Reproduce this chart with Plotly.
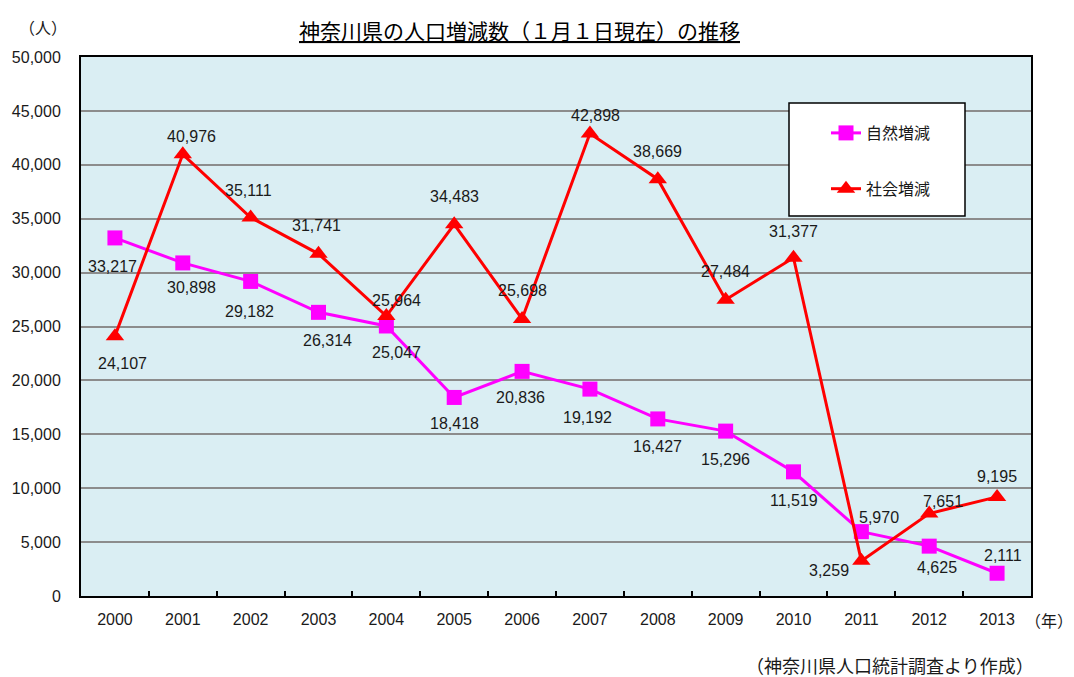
import plotly.graph_objects as go

years = ["2000", "2001", "2002", "2003", "2004", "2005", "2006",
         "2007", "2008", "2009", "2010", "2011", "2012", "2013"]
natural = [33217, 30898, 29182, 26314, 25047, 18418, 20836,
           19192, 16427, 15296, 11519, 5970, 4625, 2111]
social = [24107, 40976, 35111, 31741, 25964, 34483, 25698,
          42898, 38669, 27484, 31377, 3259, 7651, 9195]
y_ticks = [0, 5000, 10000, 15000, 20000, 25000, 30000, 35000, 40000, 45000, 50000]

# label pixel offsets (dx, dy upward) per point
nat_off = [(-2, -29), (9, -25), (-1, -30), (9, -28), (10, -27), (0, -26), (-2, -26),
           (-2, -28), (0, -28), (0, -28), (0, -29), (18, 14), (8, -21), (6, 18)]
soc_off = [(8, -27), (9, 18), (-2, 27), (-2, 28), (10, 16), (0, 28), (0, 28),
           (6, 18), (0, 28), (0, 28), (0, 26), (-32, -10), (14, 12), (0, 20)]

NUM_FONT = "Liberation Sans, Arial, sans-serif"
CJK_FONT = "Noto Sans CJK JP, sans-serif"

# page body margin offset (the page places the figure 8px from the corner)
OFF = 8
W, H = 1074 - OFF, 677 - OFF
L, R, T, B = 81 - OFF, 43, 57 - OFF, 81
PW, PH = W - L - R, H - T - B


def px_x(px):
    return (px - OFF - L) / PW


def px_y(py):
    return (H - B - (py - OFF)) / PH


fig = go.Figure()
fig.add_trace(go.Scatter(
    x=years, y=natural, name="自然増減", mode="lines+markers",
    line=dict(color="#FF00FF", width=3),
    marker=dict(symbol="square", size=15, color="#FF00FF"),
    legendgroup="a",
))
fig.add_trace(go.Scatter(
    x=years, y=social, name="社会増減", mode="lines+markers",
    line=dict(color="#FF0000", width=3),
    marker=dict(symbol="triangle-up", size=16, color="#FF0000"),
    legendgroup="b",
))

annotations = []
for vals, offs in ((natural, nat_off), (social, soc_off)):
    for i, (v, (dx, dy)) in enumerate(zip(vals, offs)):
        annotations.append(dict(
            x=i, y=v, text=f"{v:,}", showarrow=False,
            xshift=dx, yshift=dy, xref="x", yref="y",
            xanchor="center", yanchor="middle",
            font=dict(family=NUM_FONT, size=16, color="#1a1a1a"),
        ))

page_texts = [
    ("<u>神奈川県の人口増減数（１月１日現在）の推移</u>", 519, 30, 21, "#000000"),
    ("（人）", 43, 27, 16, "#1a1a1a"),
    ("（年）", 1049, 620, 16, "#1a1a1a"),
    ("（神奈川県人口統計調査より作成）", 890, 665, 18, "#1a1a1a"),
]
for text, x, y, size, color in page_texts:
    annotations.append(dict(
        text=text, x=px_x(x), y=px_y(y), xref="paper", yref="paper",
        xanchor="center", yanchor="middle", showarrow=False,
        font=dict(family=CJK_FONT, size=size, color=color),
    ))

fig.update_layout(
    width=W, height=H,
    margin=dict(l=L, r=R, t=T, b=B, autoexpand=False),
    paper_bgcolor="#FFFFFF",
    plot_bgcolor="#DAEEF3",
    showlegend=True,
    legend=dict(
        x=px_x(826), y=px_y(116), xanchor="left", yanchor="top",
        bgcolor="rgba(0,0,0,0)", borderwidth=0,
        tracegroupgap=32, traceorder="grouped",
        font=dict(family=CJK_FONT, size=16, color="#1a1a1a"),
    ),
    annotations=annotations,
    shapes=[dict(type="rect", xref="paper", yref="paper",
                 x0=px_x(789), x1=px_x(965), y0=px_y(216), y1=px_y(103),
                 fillcolor="#FFFFFF", line=dict(color="#000000", width=1.5),
                 layer="above")],
)
fig.update_xaxes(
    type="category", range=[-0.5, 13.5], automargin=False,
    showline=True, linecolor="#000000", linewidth=2, mirror=True,
    ticks="inside", tickson="boundaries", ticklen=5, tickcolor="#000000", tickwidth=1.5,
    showgrid=False, ticklabelstandoff=8,
    tickfont=dict(family=NUM_FONT, size=16, color="#1a1a1a"),
)
fig.update_yaxes(
    range=[0, 50000], tickvals=y_ticks, automargin=False,
    ticktext=[f"{v:,}" for v in y_ticks],
    showline=True, linecolor="#000000", linewidth=2, mirror=True,
    showgrid=True, gridcolor="#8C8C8C", gridwidth=1.5,
    ticks="", zeroline=False, ticklabelstandoff=15,
    tickfont=dict(family=NUM_FONT, size=16, color="#1a1a1a"),
)

fig.write_html("out.html")
